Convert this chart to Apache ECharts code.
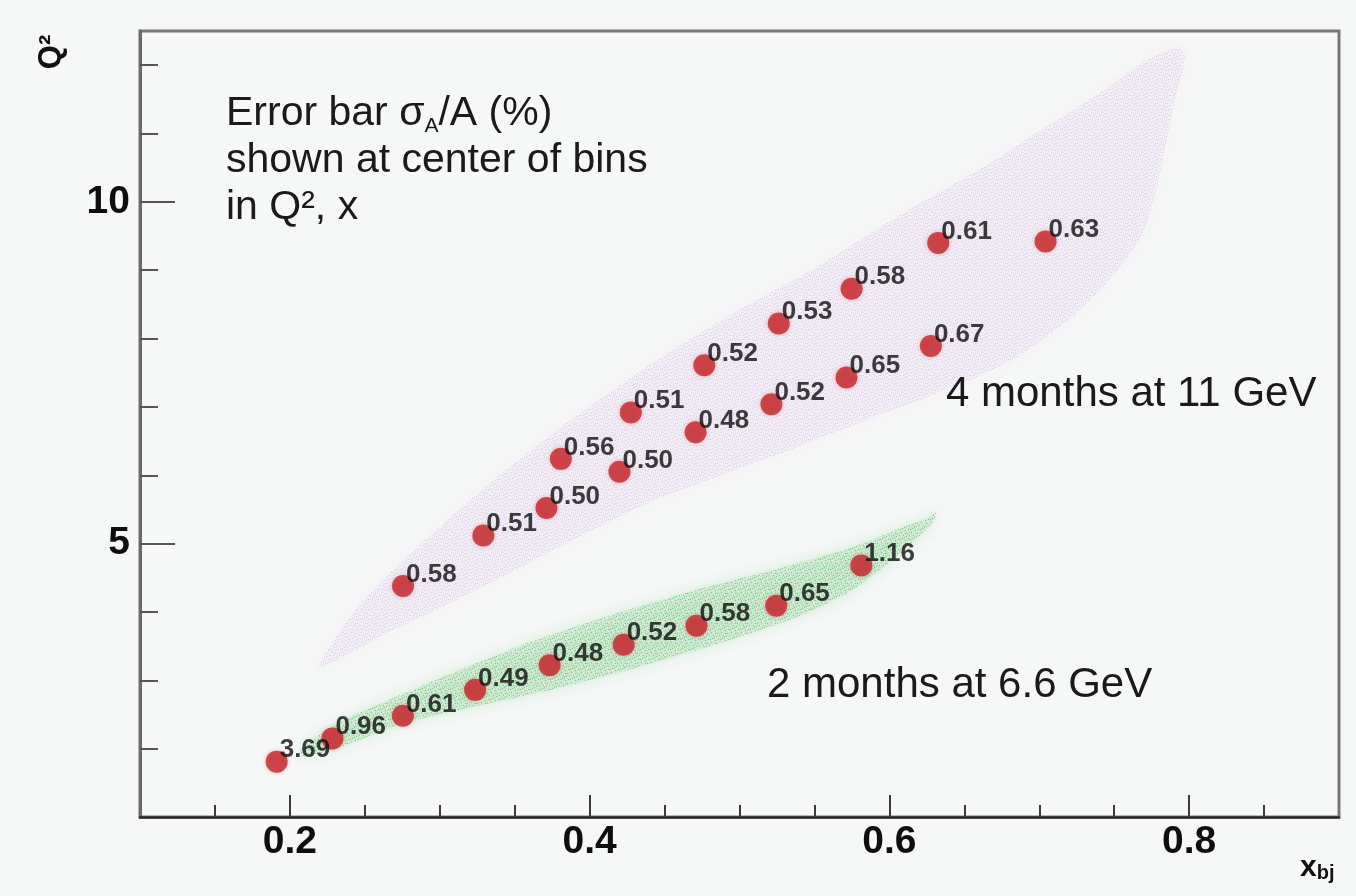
<!DOCTYPE html>
<html>
<head>
<meta charset="utf-8">
<script src="https://cdn.jsdelivr.net/npm/echarts@6/dist/echarts.min.js"></script>
<style>
  html, body { margin: 0; padding: 0; background: #f6f7f7; }
  #chart { width: 1356px; height: 896px; }
</style>
</head>
<body>
<div id="chart"></div>
<script>
// Bin centres (x_bj, Q^2) and relative asymmetry error sigma_A/A in percent
const bins11X   = [0.2755, 0.3291, 0.3712, 0.3808, 0.4199, 0.4275, 0.4707, 0.4765, 0.5213, 0.5262, 0.5714, 0.5748, 0.6277, 0.6326, 0.7042];
const bins11Q2  = [4.38, 5.12, 5.52, 6.24, 6.05, 6.92, 6.63, 7.61, 7.04, 8.22, 7.43, 8.73, 7.89, 9.40, 9.42];
const bins11Err = [0.58, 0.51, 0.50, 0.56, 0.50, 0.51, 0.48, 0.52, 0.52, 0.53, 0.65, 0.58, 0.67, 0.61, 0.63];

const bins66X   = [0.1912, 0.2284, 0.2754, 0.3236, 0.3733, 0.4227, 0.4713, 0.5245, 0.5813];
const bins66Q2  = [1.81, 2.15, 2.48, 2.86, 3.22, 3.52, 3.80, 4.09, 4.68];
const bins66Err = [3.69, 0.96, 0.61, 0.49, 0.48, 0.52, 0.58, 0.65, 1.16];

// Outline of the kinematic coverage of each beam setting
const cover11X  = [0.2200, 0.2487, 0.3213, 0.3787, 0.4360, 0.4933, 0.5513, 0.6087, 0.6660, 0.7040, 0.7427, 0.7733, 0.7920, 0.7973, 0.7887, 0.7807, 0.7693, 0.7500, 0.7233, 0.6853, 0.6467, 0.5893, 0.5133, 0.4400, 0.3800, 0.3213, 0.2640];
const cover11Q2 = [3.20, 4.16, 5.66, 6.67, 7.56, 8.34, 9.05, 9.83, 10.55, 11.09, 11.63, 12.10, 12.26, 12.14, 11.32, 10.43, 9.54, 8.94, 8.34, 7.73, 7.33, 6.84, 6.20, 5.60, 4.95, 4.28, 3.68];

const cover66X  = [0.2067, 0.2327, 0.2927, 0.3520, 0.4113, 0.4707, 0.5307, 0.5753, 0.6047, 0.6260, 0.6313, 0.6287, 0.6047, 0.5753, 0.5453, 0.5007, 0.4413, 0.3813, 0.3220, 0.2773, 0.2327, 0.2093];
const cover66Q2 = [1.98, 2.38, 2.96, 3.49, 3.93, 4.32, 4.66, 4.95, 5.20, 5.39, 5.45, 5.30, 4.81, 4.32, 3.99, 3.64, 3.25, 2.90, 2.61, 2.38, 2.02, 1.88];

// Axis ticks
const xMajorTicks = [0.2, 0.4, 0.6, 0.8];
const xMinorTicks = [0.15, 0.25, 0.3, 0.35, 0.45, 0.5, 0.55, 0.65, 0.7, 0.75, 0.85];
const yMajorTicks = [5, 10];
const yMinorTicks = [2, 3, 4, 6, 7, 8, 9, 11, 12];

const FONT = "'Liberation Sans', Arial, Helvetica, sans-serif";

// Small speckled tile used to fill the coverage regions
function speckleTile(base, dotsA, dotsB) {
  const c = document.createElement('canvas');
  c.width = 10; c.height = 10;
  const g = c.getContext('2d');
  g.fillStyle = base;
  g.fillRect(0, 0, 10, 10);
  const a = [[1,2],[4,7],[7,3],[2,8],[8,9],[5,0],[9,5],[3,5],[6,6],[0,9],[5,3]];
  const b = [[2,0],[8,1],[0,5],[6,9],[3,2],[7,7],[4,4]];
  g.fillStyle = dotsA;
  a.forEach(p => g.fillRect(p[0], p[1], 1, 1));
  g.fillStyle = dotsB;
  b.forEach(p => g.fillRect(p[0], p[1], 1, 1));
  return { image: c, repeat: 'repeat' };
}

const fill11 = speckleTile('rgba(236,222,240,0.22)', 'rgba(185,125,200,0.32)', 'rgba(150,160,225,0.22)');
const fill66 = speckleTile('rgba(178,225,182,0.45)', 'rgba(80,175,95,0.6)', 'rgba(255,255,255,0.6)');

function coverSeries(xs, ys, fill, glow) {
  return {
    type: 'custom',
    silent: true,
    z: 1,
    clip: false,
    data: [[xs[0], ys[0]]],
    renderItem: (params, api) => ({
      type: 'polygon',
      shape: { points: xs.map((x, i) => api.coord([x, ys[i]])), smooth: 0.25 },
      style: { fill: fill, shadowBlur: 14, shadowColor: glow }
    })
  };
}

function binSeries(xs, ys, errs) {
  return {
    type: 'scatter',
    z: 3,
    symbol: 'circle',
    symbolSize: 22,
    itemStyle: { color: '#c2262a', shadowBlur: 4, shadowColor: 'rgba(230,90,90,0.5)' },
    data: xs.map((x, i) => [x, ys[i], errs[i]]),
    label: {
      show: true,
      position: [14, -0.5],
      align: 'left',
      verticalAlign: 'middle',
      formatter: p => p.value[2].toFixed(2),
      fontFamily: FONT,
      fontSize: 26,
      fontWeight: 'bold',
      color: '#0e0e0e'
    }
  };
}

const tickColor = '#3a3a3a';
const labelStyle = { fontFamily: FONT, fontSize: 39, fontWeight: 'bold', color: '#0e0e0e' };

const option = {
  backgroundColor: '#f6f7f7',
  animation: false,
  grid: {
    left: 140, right: 17, top: 31, bottom: 79,
    show: true, borderColor: '#777', borderWidth: 3, backgroundColor: 'transparent'
  },
  xAxis: [
    {
      type: 'value', min: 0.1, max: 0.9, position: 'bottom',
      axisLine: { show: true, onZero: false, lineStyle: { color: '#2a2a2a', width: 2.5 } },
      axisTick: { show: true, inside: true, length: 22, customValues: xMajorTicks, lineStyle: { color: tickColor, width: 2 } },
      axisLabel: Object.assign({ customValues: xMajorTicks, margin: 6, formatter: v => v.toFixed(1) }, labelStyle),
      splitLine: { show: false }
    },
    {
      type: 'value', min: 0.1, max: 0.9, position: 'bottom', offset: 0,
      axisLine: { show: false },
      axisTick: { show: true, inside: true, length: 12, customValues: xMinorTicks, lineStyle: { color: tickColor, width: 2 } },
      axisLabel: { show: false },
      splitLine: { show: false }
    }
  ],
  yAxis: [
    {
      type: 'value', min: 1, max: 12.5, position: 'left',
      axisLine: { show: true, onZero: false, lineStyle: { color: '#6a6a6a', width: 3 } },
      axisTick: { show: true, inside: true, length: 35, customValues: yMajorTicks, lineStyle: { color: '#555', width: 2 } },
      axisLabel: Object.assign({ customValues: yMajorTicks, margin: 10 }, labelStyle),
      splitLine: { show: false }
    },
    {
      type: 'value', min: 1, max: 12.5, position: 'left', offset: 0,
      axisLine: { show: false },
      axisTick: { show: true, inside: true, length: 18, customValues: yMinorTicks, lineStyle: { color: '#555', width: 2 } },
      axisLabel: { show: false },
      splitLine: { show: false }
    }
  ],
  series: [
    coverSeries(cover11X, cover11Q2, fill11, 'rgba(232,212,238,0.7)'),
    coverSeries(cover66X, cover66Q2, fill66, 'rgba(160,220,168,0.8)'),
    binSeries(bins11X, bins11Q2, bins11Err),
    binSeries(bins66X, bins66Q2, bins66Err)
  ],
  graphic: [
    {
      type: 'text', x: 226, y: 90, z: 10,
      style: {
        text: '{n|Error bar σ}{s|A}{n|/A (%)}\n{n|shown at center of bins}\n{n|in Q², x}',
        fill: '#1a1a1a',
        verticalAlign: 'top',
        rich: {
          n: { fontFamily: FONT, fontSize: 41, lineHeight: 47, fill: '#1a1a1a' },
          s: { fontFamily: FONT, fontSize: 21, lineHeight: 8, verticalAlign: 'bottom', fill: '#1a1a1a' }
        }
      }
    },
    {
      type: 'text', x: 946, y: 394, z: 10,
      style: { text: '4 months at 11 GeV', fontFamily: FONT, fontSize: 42, fill: '#1a1a1a', verticalAlign: 'middle' }
    },
    {
      type: 'text', x: 767, y: 685, z: 10,
      style: { text: '2 months at 6.6 GeV', fontFamily: FONT, fontSize: 42, fill: '#1a1a1a', verticalAlign: 'middle' }
    },
    {
      type: 'text', x: 51, y: 52, rotation: Math.PI / 2, z: 10,
      style: { text: 'Q²', fontFamily: FONT, fontSize: 31, fontWeight: 'bold', fill: '#111', align: 'center', verticalAlign: 'middle' }
    },
    {
      type: 'text', x: 1300, y: 868, z: 10,
      style: {
        text: '{a|x}{b|bj}',
        verticalAlign: 'middle',
        rich: {
          a: { fontFamily: FONT, fontSize: 30, fontWeight: 'bold', fill: '#111', lineHeight: 30 },
          b: { fontFamily: FONT, fontSize: 20, fontWeight: 'bold', fill: '#111', lineHeight: 6, verticalAlign: 'bottom' }
        }
      }
    }
  ]
};

const chart = echarts.init(document.getElementById('chart'), null, { renderer: 'canvas' });
chart.setOption(option);
</script>
</body>
</html>
